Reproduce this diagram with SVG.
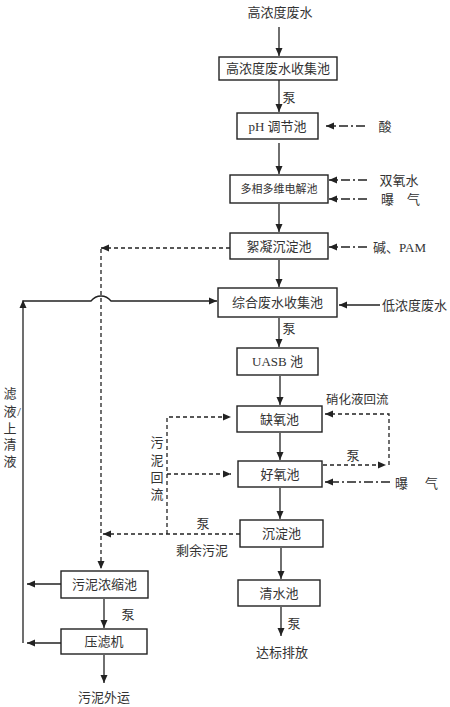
<svg xmlns="http://www.w3.org/2000/svg" width="450" height="707" viewBox="0 0 450 707">
<style>
.bx{fill:#fff;stroke:#222;stroke-width:1.4}
.t{font-family:"Liberation Serif","Noto Sans CJK SC",serif;font-size:13px;fill:#333;text-anchor:middle;dominant-baseline:central}
.ts{font-family:"Liberation Serif","Noto Sans CJK SC",serif;font-size:13px;fill:#333;text-anchor:start;dominant-baseline:central}
.ln{fill:none;stroke:#222;stroke-width:1.3}
.da{fill:none;stroke:#222;stroke-width:1.3;stroke-dasharray:4 3}
.dd{fill:none;stroke:#222;stroke-width:1.3;stroke-dasharray:9 3 2 3}
</style>
<defs>
<marker id="ah" markerUnits="userSpaceOnUse" markerWidth="9" markerHeight="8" refX="8" refY="4" orient="auto">
<path d="M0,0.5 L8,4 L0,7.5 z" fill="#222"/>
</marker>
</defs>
<rect width="450" height="707" fill="#fff"/>

<g id="connectors">
<path class="ln" d="M279,27 V56" marker-end="url(#ah)"/>
<path class="ln" d="M279,80 V112" marker-end="url(#ah)"/>
<path class="ln" d="M279,143 V174" marker-end="url(#ah)"/>
<path class="ln" d="M279,204 V232" marker-end="url(#ah)"/>
<path class="ln" d="M279,260 V287" marker-end="url(#ah)"/>
<path class="ln" d="M279,318 V347" marker-end="url(#ah)"/>
<path class="ln" d="M280,376 V405" marker-end="url(#ah)"/>
<path class="ln" d="M280,433 V460" marker-end="url(#ah)"/>
<path class="ln" d="M280,488 V519" marker-end="url(#ah)"/>
<path class="ln" d="M281,548 V579" marker-end="url(#ah)"/>
<path class="ln" d="M281,607 V636" marker-end="url(#ah)"/>
<path class="dd" d="M365,126 H326" marker-end="url(#ah)"/>
<path class="dd" d="M367,180 H329" marker-end="url(#ah)"/>
<path class="dd" d="M367,199 H329" marker-end="url(#ah)"/>
<path class="dd" d="M367,247 H329" marker-end="url(#ah)"/>
<path class="ln" d="M380,305 H339" marker-end="url(#ah)"/>
<path class="dd" d="M390,482 H325" marker-end="url(#ah)"/>
<path class="da" d="M389,465 V414 H325" marker-end="url(#ah)"/>
<path class="da" d="M323,465 H386" marker-end="url(#ah)"/>
<path class="da" d="M167,534 V417 H231" marker-end="url(#ah)"/>
<path class="da" d="M167,474 H231" marker-end="url(#ah)"/>
<path class="da" d="M240,534 H103" marker-end="url(#ah)"/>
<path class="da" d="M230,248 H101" marker-end="url(#ah)"/>
<path class="da" d="M101,249 V569" marker-end="url(#ah)"/>
<path class="ln" d="M23,643 V301 H91 Q95,296 101,296 Q107,296 111,301 H217" marker-end="url(#ah)"/>
<path d="M23,300 L19.5,308 L26.5,308 z" fill="#222"/>
<path class="ln" d="M61,584 H27" marker-end="url(#ah)"/>
<path class="ln" d="M61,643 H27" marker-end="url(#ah)"/>
<path class="ln" d="M104,599 V628" marker-end="url(#ah)"/>
<path class="ln" d="M104,655 V683" marker-end="url(#ah)"/>
</g>

<g id="labels">
<text class="t" x="280" y="12">高浓度废水</text>
<text class="t" x="289" y="97">泵</text>
<text class="t" x="289" y="328">泵</text>
<text class="t" x="385" y="126">酸</text>
<text class="t" x="399" y="180">双氧水</text>
<text class="ts" x="381" y="199">曝　气</text>
<text class="ts" x="373" y="247">碱、PAM</text>
<text class="ts" x="382" y="305">低浓度废水</text>
<text class="ts" x="326" y="400" style="font-size:12.5px">硝化液回流</text>
<text class="t" x="353" y="455">泵</text>
<text class="ts" x="395" y="483">曝</text>
<text class="ts" x="425" y="483">气</text>
<text class="t" x="157" y="442">污</text>
<text class="t" x="157" y="460">泥</text>
<text class="t" x="157" y="477">回</text>
<text class="t" x="157" y="494">流</text>
<text class="t" x="203" y="523">泵</text>
<text class="t" x="202" y="550">剩余污泥</text>
<text class="t" x="10" y="393">滤</text>
<text class="t" x="10" y="411">液</text>
<text class="t" x="19" y="411">/</text>
<text class="t" x="10" y="428">上</text>
<text class="t" x="10" y="444">清</text>
<text class="t" x="10" y="461">液</text>
<text class="t" x="128" y="614">泵</text>
<text class="t" x="104" y="697">污泥外运</text>
<text class="t" x="294" y="623">泵</text>
<text class="t" x="282" y="652">达标排放</text>
</g>

<g id="n1"><rect class="bx" x="219" y="57" width="118" height="23"/><text class="t" x="278" y="68.5">高浓度废水收集池</text></g>
<g id="n2"><rect class="bx" x="237" y="113" width="81" height="26"/><text class="t" x="277.5" y="126">pH 调节池</text></g>
<g id="n3"><rect class="bx" x="230" y="175" width="98" height="28"/><text class="t" x="279" y="189" style="font-size:11px">多相多维电解池</text></g>
<g id="n4"><rect class="bx" x="230" y="233" width="98" height="26"/><text class="t" x="279" y="246">絮凝沉淀池</text></g>
<g id="n5"><rect class="bx" x="218" y="288" width="119" height="29"/><text class="t" x="277.5" y="302.5">综合废水收集池</text></g>
<g id="n6"><rect class="bx" x="237" y="348" width="81" height="27"/><text class="t" x="277.5" y="361.5">UASB 池</text></g>
<g id="n7"><rect class="bx" x="237" y="406" width="85" height="26"/><text class="t" x="279.5" y="419">缺氧池</text></g>
<g id="n8"><rect class="bx" x="238" y="461" width="84" height="26"/><text class="t" x="280" y="474">好氧池</text></g>
<g id="n9"><rect class="bx" x="240" y="520" width="83" height="27"/><text class="t" x="281.5" y="533.5">沉淀池</text></g>
<g id="n10"><rect class="bx" x="238" y="580" width="82" height="26"/><text class="t" x="279" y="593">清水池</text></g>
<g id="n11"><rect class="bx" x="61" y="571" width="87" height="27"/><text class="t" x="104.5" y="584.5">污泥浓缩池</text></g>
<g id="n12"><rect class="bx" x="61" y="629" width="86" height="25"/><text class="t" x="104" y="641.5">压滤机</text></g>
</svg>
